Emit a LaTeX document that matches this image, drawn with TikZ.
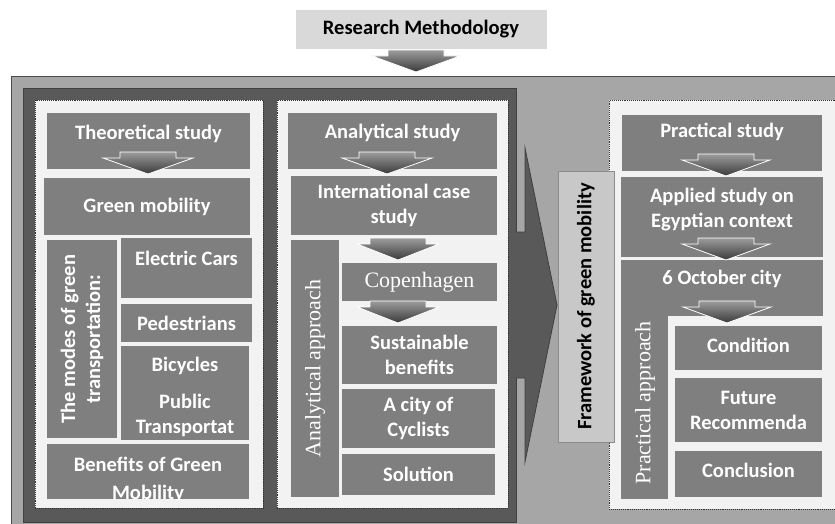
\documentclass[tikz,border=0pt]{standalone}
\usepackage{fontspec}
\setmainfont{Carlito}
\newfontfamily\capserif{Liberation Serif}
\usepackage{xcolor}
\usetikzlibrary{positioning,calc}

\definecolor{outergray}{HTML}{A6A6A6}
\definecolor{leftgray}{HTML}{595959}
\definecolor{panelgray}{HTML}{F2F2F2}
\definecolor{boxgray}{HTML}{7F7F7F}
\definecolor{titlegray}{HTML}{D9D9D9}
\definecolor{framegray}{HTML}{C8C8C8}
\definecolor{arrowtop}{HTML}{9C9C9C}
\definecolor{arrowbot}{HTML}{3A3A3A}

\begin{document}
\begin{tikzpicture}[x=1pt,y=-1pt,font=\bfseries\fontsize{20.5}{25}\selectfont]
	\tikzstyle{block} = [rectangle,fill=boxgray,text=white,inner sep=0pt,align=center]
	\tikzstyle{panel} = [rectangle,fill=panelgray,draw=black!80,densely dotted,line width=0.9pt,inner sep=0pt]
	\tikzstyle{txt} = [text=white,inner sep=0pt,align=center]
	\tikzstyle{serif} = [font=\capserif\mdseries\fontsize{22}{26}\selectfont]
	\tikzset{
		arrowshade/.style={draw=white,line width=0.8pt,top color=arrowtop,bottom color=arrowbot},
		pics/darrow/.style={code={
			\path[arrowshade] (-28,-22) -- (28,-22) -- (28,-16) -- (#1,-16) -- (0,0) -- (-#1,-16) -- (-28,-16) -- cycle;
		}}
	}
	\clip (0,0) rectangle (835,524);
	\fill[white] (0,0) rectangle (835,524);

	% title
	\node[rectangle,fill=titlegray,minimum width=251pt,minimum height=39pt,inner sep=0pt,font=\bfseries\fontsize{20.5}{24}\selectfont] (title) at (421,29.5) {Research Methodology};
	\pic (tarr) at (416,72) {darrow=44};

	% background frames
	\node[rectangle,fill=outergray,draw=black!70,line width=1pt,anchor=north west,minimum width=840pt,minimum height=470pt] (outer) at (11,76) {};
	\node[rectangle,fill=leftgray,draw=black!75,line width=1pt,minimum width=493pt,minimum height=433pt] (left) at (269.5,305.5) {};
	\draw[fill=leftgray,draw=black!75,line width=0.8pt] (516,232) -- (525,232) -- (525,148) -- (557,305) -- (525,462) -- (525,378) -- (516,378);
	\node[panel,minimum width=228pt,minimum height=408pt] (p1) at (149,304) {};
	\node[panel,minimum width=231pt,minimum height=408pt] (p2) at (392.5,304) {};
	\node[panel,anchor=north west,minimum width=240pt,minimum height=409pt] (p3) at (609,100) {};

	% theoretical study
	\node[block,minimum width=203pt,minimum height=56pt] (theo) at (148.5,141) {};
	\node[txt] (theo-t) at (148.5,134) {Theoretical study};
	\node[block,minimum width=206pt,minimum height=57pt] (green) at (147,206.5) {Green mobility};
	\node[block,rotate=90,minimum width=198pt,minimum height=70pt] (modes) at (82,339) {The modes of green\\transportation:};
	\node[block,minimum width=131pt,minimum height=60pt] (ecars) at (186.5,268) {};
	\node[txt] (ecars-t) at (186.5,258) {Electric Cars};
	\node[block,minimum width=131pt,minimum height=38pt] (ped) at (186.5,323) {Pedestrians};
	\node[block,minimum width=128pt,minimum height=94pt] (bicy) at (185,393) {};
	\node[txt] (bicy-t) at (185,396.5) {Bicycles\\[12pt]Public\\Transportat};
	\node[block,minimum width=202pt,minimum height=55pt] (bene) at (148,471.5) {};
	\begin{scope}
		\clip (bene.north west) rectangle (bene.south east);
		\node[txt] (bene-t) at (148,480) {Benefits of Green\\[3pt]Mobility};
	\end{scope}
	\pic (a1) at (148,174) {darrow=45};

	% analytical study
	\node[block,minimum width=209pt,minimum height=56pt] (anal) at (392.5,141) {};
	\node[txt] (anal-t) at (392.5,133) {Analytical study};
	\node[block,minimum width=206pt,minimum height=59pt] (intl) at (394,205.5) {International case\\study};
	\node[block,serif,rotate=90,minimum width=257pt,minimum height=48pt] (aapp) at (315,368.5) {Analytical approach};
	\node[block,serif,minimum width=155pt,minimum height=38pt] (cope) at (419.5,282) {Copenhagen};
	\node[block,minimum width=155pt,minimum height=58pt] (sust) at (419.5,355) {Sustainable\\benefits};
	\node[block,minimum width=153pt,minimum height=59pt] (city) at (418.5,418.5) {A city of\\Cyclists};
	\node[block,minimum width=153pt,minimum height=41pt] (solu) at (418.5,474.5) {Solution};
	\pic (a2) at (387,174) {darrow=45};
	\pic (a3) at (398,260) {darrow=41};
	\pic (a4) at (398,323) {darrow=41};

	% framework label
	\node[rectangle,fill=framegray,draw=black!45,rotate=90,minimum width=271pt,minimum height=56pt,inner sep=0pt] (frame) at (586,306.5) {Framework of green mobility};

	% practical study
	\node[block,minimum width=200pt,minimum height=56pt] (prac) at (722,143) {};
	\node[txt] (prac-t) at (722,132) {Practical study};
	\node[block,minimum width=202pt,minimum height=80pt] (appl) at (722,217) {};
	\node[txt] (appl-t) at (722,209.5) {Applied study on\\Egyptian context};
	\node[block,minimum width=202pt,minimum height=56pt] (oct) at (722,288) {};
	\node[block,minimum width=47pt,minimum height=239pt] (papp) at (644.5,379.5) {};
	\node[txt] (oct-t) at (722,279) {6 October city};
	\node[txt,serif,rotate=90] (papp-t) at (645,403) {Practical approach};
	\node[block,minimum width=147pt,minimum height=44pt] (cond) at (748.5,348) {};
	\node[txt] (cond-t) at (748.5,345) {Condition};
	\node[block,minimum width=147pt,minimum height=64pt] (futr) at (748.5,410) {Future\\Recommenda};
	\node[block,minimum width=147pt,minimum height=46pt] (conc) at (748.5,474) {};
	\node[txt] (conc-t) at (748.5,470) {Conclusion};
	\pic (a5) at (726,176) {darrow=44};
	\pic (a6) at (726,260) {darrow=44};
	\pic (a7) at (727,323) {darrow=44};
\end{tikzpicture}
\end{document}
